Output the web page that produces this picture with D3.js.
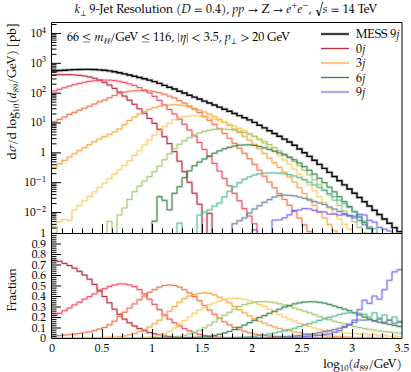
<!DOCTYPE html>
<html>
<head>
<meta charset="utf-8">
<script src="https://cdn.jsdelivr.net/npm/d3@7"></script>
<style>
  body { margin: 0; background: #fff; }
  text { font-family: "TeX Gyre Pagella", "Palatino Linotype", "Liberation Serif", serif; fill: #000; }
</style>
</head>
<body>
<svg id="chart" width="411" height="372"></svg>
<script>
// Binning of log10(d89/GeV)
const binLow = 0, binWidth = 0.05, binCount = 70;

// MESS 9j total, dσ/dlog10(d89/GeV) [pb]
const mess9j = [531,550,562,582,592,598,603,603,596,582,
  562,537,505,466,427,389,355,321,292,263,
  234,204,176,151,132,112,97,82,71,61,
  52,45,38.5,32.7,27.9,23.7,20.1,17.0,14.4,12.2,
  10.1,8.1,6.6,5.3,4.3,3.45,2.77,2.23,1.73,1.30,
  0.97,0.73,0.54,0.396,0.29,0.2125,0.155,0.112,0.081,0.059,
  0.0427,0.0306,0.0221,0.0159,0.0114,0.0082,0.0058,0.0042,0.0030,0.0022];

// Fraction of the total for each jet multiplicity
const frac0j = [0.74,0.73,0.71,0.69,0.665,0.635,0.60,0.56,0.51,0.455,
  0.395,0.335,0.275,0.225,0.18,0.145,0.115,0.09,0.07,0.052,
  0.040,0.029,0.019,0.013,0.008,0.0045,0.0023,0.0012,0.0006,0.0003,
  0,0.0002,0,0,0,0,0,0,0,0, 0,0,0,0,0,0,0,0,0,0,
  0,0,0,0,0,0,0,0,0,0, 0,0,0,0,0,0,0,0,0,0];
const frac1j = [0.215,0.235,0.26,0.285,0.315,0.34,0.37,0.395,0.42,0.445,
  0.47,0.49,0.505,0.515,0.515,0.505,0.49,0.46,0.42,0.37,
  0.32,0.27,0.22,0.18,0.145,0.115,0.09,0.068,0.05,0.035,
  0.024,0.016,0.011,0.0072,0.0048,0.0032,0.0021,0.0014,0.0009,0.0006,
  0.0004,0.0002,0,0,0,0,0,0,0,0, 0,0,0,0,0,0,0,0,0,0, 0,0,0,0,0,0,0,0,0,0];
const frac2j = [0.02,0.023,0.027,0.032,0.037,0.043,0.05,0.058,0.07,0.085,
  0.10,0.125,0.16,0.205,0.245,0.285,0.325,0.365,0.40,0.435,
  0.46,0.485,0.50,0.505,0.50,0.485,0.46,0.43,0.395,0.355,
  0.31,0.265,0.225,0.19,0.155,0.125,0.10,0.08,0.064,0.05,
  0.039,0.031,0.024,0.019,0.015,0.012,0.0095,0.0075,0.006,0.0048,
  0.0038,0.003,0.0024,0.0019,0.0015,0.0012,0.001,0.0008,0.0006,0.0005,
  0,0.0004,0,0.0003,0,0,0,0,0,0];
const frac3j = [0.0006,0.00075,0.00095,0.0012,0.0015,0.0019,0.0024,0.003,0.0038,0.0048,
  0.006,0.0075,0.0095,0.013,0.02,0.03,0.043,0.06,0.08,0.105,
  0.135,0.17,0.21,0.255,0.30,0.34,0.375,0.40,0.415,0.425,
  0.43,0.425,0.41,0.39,0.365,0.335,0.30,0.27,0.24,0.21,
  0.185,0.16,0.14,0.12,0.105,0.09,0.078,0.067,0.058,0.05,
  0.043,0.037,0.031,0.026,0.022,0.018,0.015,0.012,0.01,0.008,
  0.0065,0.005,0.004,0.003,0.0022,0.0016,0.001,0,0.0015,0];
const frac4j = [7e-6,8.5e-6,1e-5,9e-6,2e-5,2.8e-5,3.9e-5,5.5e-5,7.9e-5,1.14e-4,
  1.66e-4,2.45e-4,3.7e-4,5.6e-4,8.5e-4,0.00135,0.0022,0.0035,0.006,0.0098,
  0.016,0.026,0.041,0.062,0.095,0.13,0.165,0.20,0.235,0.265,
  0.29,0.315,0.335,0.35,0.365,0.375,0.378,0.375,0.368,0.355,
  0.34,0.32,0.30,0.275,0.25,0.225,0.20,0.18,0.16,0.14,
  0.125,0.11,0.095,0.082,0.072,0.064,0.057,0.052,0.048,0.045,
  0.042,0.036,0.04,0.03,0.033,0.022,0.026,0.016,0.02,0.012];
const frac5j = [6e-6,0,0,0,0,0,0,0,0,0,
  0,9e-6,0,1.7e-5,3.2e-5,6.8e-5,1.35e-4,2.3e-4,3.7e-4,5.8e-4,
  9.5e-4,0.0017,0.0032,0.0059,0.01,0.0166,0.0254,0.0376,0.0537,0.073,
  0.097,0.123,0.153,0.186,0.215,0.245,0.275,0.30,0.318,0.33,
  0.34,0.346,0.346,0.343,0.336,0.326,0.314,0.30,0.285,0.27,
  0.255,0.24,0.222,0.205,0.19,0.175,0.16,0.148,0.135,0.122,
  0.11,0.10,0.09,0.082,0.075,0.068,0.062,0.056,0.05,0.045];
const frac6j = [0,0,0,0,0,0,0,0,0,0, 0,0,0,0,0,0,0,0,0,0,
  2.1e-5,1.6e-4,1.4e-4,7.8e-5,3.2e-4,6.3e-4,0.00146,0.0029,0.005,0.0077,
  0.0115,0.0168,0.0243,0.0343,0.047,0.062,0.081,0.102,0.123,0.146,
  0.168,0.195,0.214,0.235,0.255,0.275,0.295,0.31,0.325,0.335,
  0.342,0.345,0.345,0.34,0.332,0.32,0.305,0.29,0.275,0.26,
  0.24,0.22,0.20,0.18,0.165,0.15,0.14,0.13,0.12,0.11];
const frac7j = [0,0,0,0,0,0,0,0,0,0, 0,0,0,0,0,0,0,0,0,0,
  0,0,0,0,0,3.8e-5,0,0,0,1.3e-4,
  1.9e-4,2.6e-4,4.1e-4,6.1e-4,0.00114,0.0021,0.0035,0.0056,0.0087,0.0124,
  0.0172,0.0234,0.0303,0.0384,0.0475,0.0578,0.0687,0.0798,0.093,0.109,
  0.124,0.137,0.15,0.167,0.181,0.196,0.209,0.224,0.235,0.24,
  0.24,0.235,0.225,0.20,0.24,0.19,0.22,0.17,0.20,0.16];
const frac8j = [0,0,0,0,0,0,0,0,0,0, 0,0,0,0,0,0,0,0,0,0,
  0,0,0,0,0,0,0,0,0,0, 0,0,0,0,0,0,2e-4,3e-4,4.4e-4,7.5e-4,
  0.00125,0.002,0.0032,0.0049,0.0074,0.0103,0.0134,0.0163,0.02,0.0244,
  0.0297,0.0345,0.0414,0.0504,0.0613,0.0696,0.081,0.093,0.11,0.126,
  0.148,0.171,0.17,0.175,0.16,0.18,0.15,0.17,0.14,0.15];
const frac9j = [0,0,0,0,0,0,0,0,0,0, 0,0,0,0,0,0,0,0,0,0,
  0,0,0,0,0,0,0,0,0,0, 0,0,0,0,0,0,0,0,0,0,
  2.5e-4,0,0,0,0.00125,0.00156,0.0023,0.0036,0.0065,0.009,
  0.0135,0.0174,0.021,0.025,0.035,0.04,0.055,0.07,0.10,0.13,
  0.17,0.27,0.36,0.33,0.40,0.37,0.46,0.55,0.63,0.65];

const multiplicities = ["0", "1", "2", "3", "4", "5", "6", "7", "8", "9"];
const fractions = [frac0j, frac1j, frac2j, frac3j, frac4j, frac5j, frac6j, frac7j, frac8j, frac9j];
const colors = ["#b2182b", "#ee4156", "#f26a3c", "#f9a036", "#fcc958",
                "#9bc767", "#2f7c3c", "#4fb992", "#5e7ea3", "#7a5cf5"];
const legendItems = ["0", "3", "6", "9"];

const yMainTicks = [-2, -1, 0, 1, 2, 3, 4];
const xTicks = [0, 0.5, 1, 1.5, 2, 2.5, 3, 3.5];
const ratioTicks = [0, 0.1, 0.2, 0.3, 0.4, 0.5, 0.6, 0.7, 0.8, 0.9, 1];

// Scales
const svg = d3.select("#chart");
const X = d3.scaleLinear().domain([0, 3.5]).range([52, 402]);
const YMain = d3.scaleLog().domain([Math.pow(10, -2.704), Math.pow(10, 4.335)]).range([233, 23]);
const YRatio = d3.scaleLinear().domain([0, 1]).range([338, 233]);

/** Rich: write text parts with italics, sub- and superscripts. */
function Rich(Sel, Parts, Size) {
    var Offset = 0;
    Parts.forEach((P) => {
        var Target = P.sup ? -0.38 * Size : P.sub ? 0.25 * Size : 0;
        var T = Sel.append("tspan").text(P.t).attr("dy", Target - Offset);
        Offset = Target;
        if (P.sup || P.sub) T.attr("font-size", Size * 0.7);
        if (P.i) T.attr("font-style", "italic");
    });
    return Sel;
}

// Clip paths for both panels
var Defs = svg.append("defs");
Defs.append("clipPath").attr("id", "clipMain").append("rect")
    .attr("x", 52).attr("y", 23).attr("width", 350).attr("height", 210);
Defs.append("clipPath").attr("id", "clipRatio").append("rect")
    .attr("x", 52).attr("y", 233).attr("width", 350).attr("height", 105);

// Step-histogram path
var Edges = d3.range(binCount + 1).map((I) => binLow + I * binWidth);
function StepPoints(Values, Y, Floor) {
    var Points = [];
    Values.forEach((V, I) => {
        var Py = V > 0 ? Y(V) : Floor;
        Points.push([X(Edges[I]), Py], [X(Edges[I + 1]), Py]);
    });
    return Points;
}
var Line = d3.line();

function DrawHist(Layer, Values, Y, Floor, Color, Width) {
    var D = Line(StepPoints(Values, Y, Floor));
    Layer.append("path").attr("d", D).attr("fill", "none")
        .attr("stroke", Color).attr("stroke-opacity", 0.2).attr("stroke-width", Width + 1.8);
    Layer.append("path").attr("d", D).attr("fill", "none")
        .attr("stroke", Color).attr("stroke-width", Width);
}

// Main panel
var MainLayer = svg.append("g").attr("clip-path", "url(#clipMain)");
fractions.forEach((F, K) => {
    var Values = F.map((V, I) => V * mess9j[I]);
    DrawHist(MainLayer, Values, YMain, 260, colors[K], 0.9);
});
DrawHist(MainLayer, mess9j, YMain, 260, "#000", 1.4);

// Ratio panel
var RatioLayer = svg.append("g").attr("clip-path", "url(#clipRatio)");
fractions.forEach((F, K) => DrawHist(RatioLayer, F, YRatio, 340, colors[K], 0.9));

// Axes: ticks inside the frame
var Axes = svg.append("g");
function Ticks(Axis, Y0, Length, Values) {
    var G = Axes.append("g").attr("transform", Y0);
    G.call(Axis.tickValues(Values).tickSizeInner(-Length).tickSizeOuter(0).tickFormat(""));
    G.select(".domain").remove();
    G.selectAll("line").attr("stroke", "#000").attr("stroke-width", 1);
    return G;
}
var XMinor = d3.range(0, 36).map((I) => I / 10).filter((V) => Math.abs(V * 2 - Math.round(V * 2)) > 1e-6);
[233, 338].forEach((Y0) => {
    Ticks(d3.axisBottom(X), `translate(0,${Y0})`, 9, xTicks.slice(1, -1));
    Ticks(d3.axisBottom(X), `translate(0,${Y0})`, 4.5, XMinor);
});
var LogMinor = [];
for (var D = -3; D <= 4; D++) for (var K = 2; K <= 9; K++) {
    var V = K * Math.pow(10, D);
    if (V > YMain.domain()[0] && V < YMain.domain()[1]) LogMinor.push(V);
}
Ticks(d3.axisLeft(YMain), "translate(52,0)", 9, yMainTicks.map((E) => Math.pow(10, E)));
Ticks(d3.axisLeft(YMain), "translate(52,0)", 4.5, LogMinor);
Ticks(d3.axisLeft(YRatio), "translate(52,0)", 9, ratioTicks.slice(1, -1));
Ticks(d3.axisLeft(YRatio), "translate(52,0)", 4.5,
    d3.range(1, 50).map((I) => I / 50).filter((V) => Math.abs(V * 10 - Math.round(V * 10)) > 1e-6));

// Frames
var Frame = svg.append("g").attr("fill", "none").attr("stroke", "#000").attr("stroke-width", 1);
Frame.append("path").attr("d", "M51.5,22.5H402V338.5");
Frame.append("path").attr("d", "M51.5,22.5V338.5H402");
Frame.append("path").attr("d", "M51.5,233.5H402");

// Tick labels
var LabelSize = 11.5;
yMainTicks.forEach((E) => {
    var T = svg.append("text").attr("x", 46).attr("y", YMain(Math.pow(10, E)) + 4)
        .attr("text-anchor", "end").attr("font-size", LabelSize);
    if (E == 0) T.text("1");
    else Rich(T, [{ t: "10" }, { t: E < 0 ? "\u2212" + (-E) : String(E), sup: true }], LabelSize);
});
ratioTicks.forEach((V) => {
    svg.append("text").attr("x", 46).attr("y", YRatio(V) + 4)
        .attr("text-anchor", "end").attr("font-size", LabelSize).text(V == 0 || V == 1 ? String(V) : V.toFixed(1));
});
xTicks.forEach((V) => {
    svg.append("text").attr("x", X(V)).attr("y", 352)
        .attr("text-anchor", "middle").attr("font-size", LabelSize).text(String(V));
});

// Axis titles
Rich(svg.append("text").attr("x", 402).attr("y", 368).attr("text-anchor", "end").attr("font-size", 12),
    [{ t: "log" }, { t: "10", sub: true }, { t: "(" }, { t: "d", i: true }, { t: "89", sub: true }, { t: "/GeV)" }], 12);
Rich(svg.append("text").attr("transform", "translate(16,23) rotate(-90)").attr("text-anchor", "end").attr("font-size", 12),
    [{ t: "d" }, { t: "\u03C3", i: true }, { t: "/d log" }, { t: "10", sub: true }, { t: "(" }, { t: "d", i: true },
     { t: "89", sub: true }, { t: "/GeV) [pb]" }], 12);
svg.append("text").attr("transform", "translate(16,290) rotate(-90)").attr("text-anchor", "middle")
    .attr("font-size", 12).text("Fraction");

// Title
Rich(svg.append("text").attr("x", 226).attr("y", 13).attr("text-anchor", "middle").attr("font-size", 12),
    [{ t: "k", i: true }, { t: "\u22A5", sub: true }, { t: " 9-Jet Resolution (" }, { t: "D", i: true },
     { t: " = 0.4), " }, { t: "pp", i: true }, { t: " \u2192 Z \u2192 " }, { t: "e", i: true }, { t: "+", sup: true },
     { t: "e", i: true }, { t: "\u2212", sup: true }, { t: ", \u221A" }, { t: "s", i: true }, { t: " = 14 TeV" }], 12);

// Cut label
Rich(svg.append("text").attr("x", 67).attr("y", 41).attr("font-size", 12),
    [{ t: "66 \u2264 " }, { t: "m", i: true }, { t: "\u2113\u2113", sub: true, i: true }, { t: "/GeV \u2264 116, |" },
     { t: "\u03B7", i: true }, { t: "| < 3.5, " }, { t: "p", i: true }, { t: "\u22A5", sub: true }, { t: " > 20 GeV" }], 12);

// Legend
var LegendRows = [{ label: "MESS 9", color: "#000", width: 1.4 }]
    .concat(legendItems.map((M) => ({ label: M, color: colors[multiplicities.indexOf(M)], width: 0.9 })));
LegendRows.forEach((R, I) => {
    var Y0 = 34 + I * 14.5;
    var G = svg.append("g");
    G.append("line").attr("x1", 321).attr("x2", 349).attr("y1", Y0).attr("y2", Y0)
        .attr("stroke", R.color).attr("stroke-opacity", 0.2).attr("stroke-width", R.width + 1.8);
    G.append("line").attr("x1", 321).attr("x2", 349).attr("y1", Y0).attr("y2", Y0)
        .attr("stroke", R.color).attr("stroke-width", R.width);
    Rich(G.append("text").attr("x", 356).attr("y", Y0 + 4).attr("font-size", 12),
        [{ t: R.label }, { t: "j", i: true }], 12);
});
</script>
</body>
</html>
